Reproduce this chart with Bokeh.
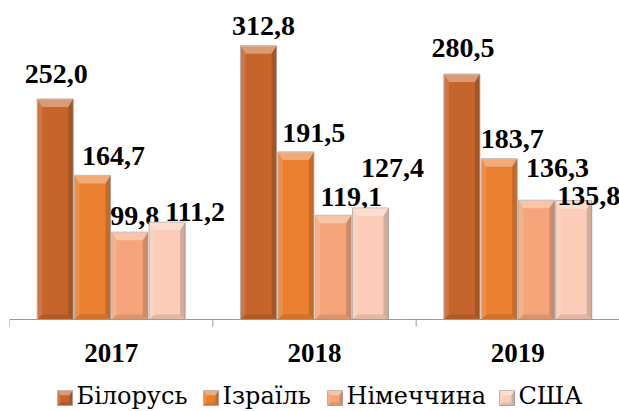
import numpy as np
from bokeh.plotting import figure
from bokeh.models import Range1d, ColumnDataSource, Span
from bokeh.core.properties import value
from bokeh.embed import file_html
from bokeh.resources import INLINE

# ---- data ----
years = ["2017", "2018", "2019"]
countries = ["Білорусь", "Ізраїль", "Німеччина", "США"]
belarus = [252.0, 312.8, 280.5]
israel = [164.7, 191.5, 183.7]
germany = [99.8, 119.1, 136.3]
usa = [111.2, 127.4, 135.8]
series = [belarus, israel, germany, usa]

# ---- styles ----
colors = ["#C5652B", "#EB7F30", "#F6A57A", "#FBCDB9"]
# manual label placement (pixels) as in the original chart
label_dx = [[1, 5, 1], [21, 18, 13], [5, 18, 21], [28, 22, 15]]
label_dy = [[15, 10, 16], [9, 9, 10], [6, 8, 22], [0, 30, -5]]
DY_FIX = 10
# legend layout (pixels from frame left / below zero line)
legend_px = [48, 194, 318, 490]
LEGEND_BOX = 15
LEGEND_TOP = 71
LEGEND_BASE = 86
legend_font = "DejaVu Serif"

FRAME_W, FRAME_H = 610, 403
PLOT_H = 311            # pixels from top of frame to the zero line
Y_END = 355.4
px_x = FRAME_W / 3.0
px_y = PLOT_H / Y_END
Y_START = -(FRAME_H - PLOT_H) / px_y
bar_w = 36 / px_x
step = 37.3 / px_x
offsets = [(-1.5 + i) * step for i in range(4)]
tick_len = 7 / px_y

n = len(years)
p = figure(frame_width=FRAME_W, frame_height=FRAME_H, output_backend="svg",
           toolbar_location=None, x_range=Range1d(0, n), y_range=Range1d(Y_START, Y_END),
           x_axis_location=None, y_axis_location=None,
           min_border=0, min_border_left=9, min_border_right=0, min_border_top=8)
p.outline_line_color = None
p.xgrid.visible = False
p.ygrid.visible = False

serif = "Liberation Serif"
centers = np.arange(n) + 0.5


def bevels(x0, x1, y0, y1, bpx):
    """3-D bevel overlay for rectangles given in data coordinates."""
    bw = bpx / px_x
    bh = bpx / px_y
    th = bh * 1.6
    parts = {"top": ([], []), "left": ([], []), "right": ([], []), "bottom": ([], [])}
    for a, b, lo, t in zip(x0, x1, y0, y1):
        parts["top"][0].append([a, b, b - bw, a + bw]); parts["top"][1].append([t, t, t - th, t - th])
        parts["left"][0].append([a, a + bw, a + bw, a]); parts["left"][1].append([t, t - th, lo + bh, lo])
        parts["right"][0].append([b, b, b - bw, b - bw]); parts["right"][1].append([t, lo, lo + bh, t - th])
        parts["bottom"][0].append([a, b, b - bw, a + bw]); parts["bottom"][1].append([lo, lo, lo + bh, lo + bh])
    style = {"top": ("white", 0.35), "left": ("white", 0.12),
             "right": ("black", 0.16), "bottom": ("black", 0.10)}
    for k, (xs_, ys_) in parts.items():
        c, a = style[k]
        p.patches(xs_, ys_, fill_color=c, fill_alpha=a, line_color=None)


# category axis: line, boundary ticks, labels
p.add_layout(Span(location=0, dimension="width", line_color="#9a9a9a", line_width=1))
bounds = np.arange(n + 1)
p.segment(x0=bounds, y0=[0] * (n + 1), x1=bounds, y1=[-tick_len] * (n + 1),
          line_color="#9a9a9a", line_width=1)
p.text(x=centers, y=[0] * n, text=years, y_offset=43 - DY_FIX,
       text_align="center", text_baseline="alphabetic",
       text_font=value(serif), text_font_style="bold", text_font_size="27px",
       text_color="black")

for i, vals in enumerate(series):
    xs = centers + offsets[i]
    v = np.array(vals)
    src = ColumnDataSource(dict(x=xs, top=v))
    p.vbar(x="x", top="top", bottom=0, width=bar_w, source=src, fill_color=colors[i],
           line_color="#b8aca4", line_width=1)
    bevels(xs - bar_w / 2, xs + bar_w / 2, np.zeros(n), v, 5)

    labels = [f"{x:.1f}".replace(".", ",") for x in vals]
    lsrc = ColumnDataSource(dict(x=xs, y=v, t=labels, dx=label_dx[i],
                                 dy=[-(d + DY_FIX) for d in label_dy[i]]))
    p.text(x="x", y="y", text="t", x_offset="dx", y_offset="dy", source=lsrc,
           text_align="center", text_baseline="alphabetic",
           text_font=value(serif), text_font_style="bold",
           text_font_size="28px", text_color="black")

# legend (drawn inside the frame, below the category axis)
lx0 = np.array(legend_px) / px_x
lx1 = (np.array(legend_px) + LEGEND_BOX) / px_x
ly1 = np.full(4, -LEGEND_TOP / px_y)
ly0 = np.full(4, -(LEGEND_TOP + LEGEND_BOX) / px_y)
p.quad(left=lx0, right=lx1, bottom=ly0, top=ly1, fill_color=colors,
       line_color="#b8aca4", line_width=1)
bevels(lx0, lx1, ly0, ly1, 3)
p.text(x=lx1, y=[0] * 4, text=countries, x_offset=4, y_offset=LEGEND_BASE - DY_FIX,
       text_align="left", text_baseline="alphabetic",
       text_font=value(legend_font), text_font_size="24px", text_color="black")

open("out.html", "w").write(file_html(p, INLINE))
